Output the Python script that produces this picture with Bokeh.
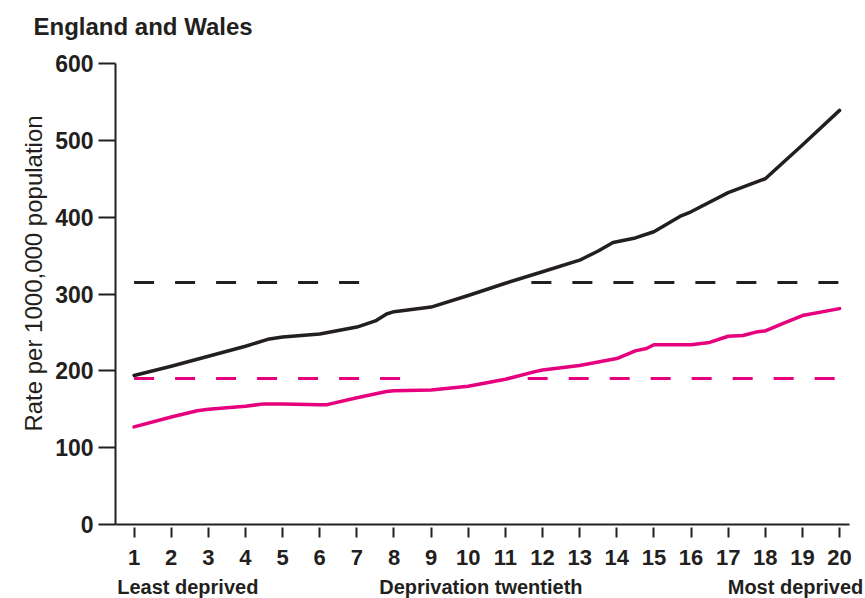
import math
from bokeh.plotting import figure
from bokeh.models import Range1d, FixedTicker, LinearAxis, Label
from bokeh.embed import file_html
from bokeh.resources import INLINE

# ---- data ----
title_text = "England and Wales"
y_label = "Rate per 1000,000 population"
x_ticks = list(range(1, 21))
y_ticks = [0, 100, 200, 300, 400, 500, 600]

# black series - deprivation twentieth vs rate
black_x = [1, 2, 3, 4, 4.6, 5, 6, 7, 7.5, 7.8, 8, 9, 10, 11, 12, 13, 13.5, 13.9, 14.5, 15, 15.7, 16, 17, 18, 19, 20]
black_y = [194, 206, 219, 232, 241, 244, 248, 257, 265, 274, 277, 283, 298, 314, 329, 344, 356, 367, 373, 381, 401, 407, 432, 450, 494, 539]

# magenta series
pink_x = [1, 2, 2.7, 3, 4, 4.5, 5, 6, 6.2, 7, 7.8, 8, 9, 10, 11, 11.8, 12, 13, 14, 14.5, 14.8, 15, 16, 16.5, 17, 17.4, 17.8, 18, 18.5, 19, 20]
pink_y = [127, 140, 148, 150, 154, 157, 157, 156, 156, 165, 173, 174, 175, 180, 189, 199, 201, 207, 216, 226, 229, 234, 234, 237, 245, 246, 251, 252, 262, 272, 281]

# national average reference levels (dashed), drawn in two pieces each
black_avg = 315
black_avg_x0 = [1, 11.7]
black_avg_x1 = [7.1, 20.05]
pink_avg = 190
pink_avg_x0 = [1, 11.6]
pink_avg_x1 = [8.2, 19.9]

bottom_labels = ["Least deprived", "Deprivation twentieth", "Most deprived"]

# ---- styling ----
INK = "#231f20"
MAGENTA = "#e6007e"
FONT = "Liberation Sans"

# the frame fills the whole canvas; both axes are pinned and bounded
p = figure(width=865, height=598, output_backend="svg", toolbar_location=None,
           x_range=Range1d(-2.598, 20.699), y_range=Range1d(-96.3, 682.0),
           x_axis_location=None, y_axis_location=None,
           min_border_left=0, min_border_right=0, min_border_top=0, min_border_bottom=0)
p.outline_line_color = None
p.grid.visible = False
p.background_fill_color = "white"
p.border_fill_color = "white"

# x axis at y = 0
xa = LinearAxis(fixed_location=0, ticker=FixedTicker(ticks=x_ticks), bounds=(0.5, 20.27))
xa.axis_line_color = INK
xa.axis_line_width = 2
xa.major_tick_line_color = INK
xa.major_tick_line_width = 2
xa.major_tick_in = -3
xa.major_tick_out = 13
xa.minor_tick_line_color = None
xa.major_label_standoff = 12
xa.major_label_text_font = FONT
xa.major_label_text_font_style = "bold"
xa.major_label_text_font_size = "22px"
xa.major_label_text_color = INK
p.add_layout(xa, "below")

# y axis at x = 0.5
ya = LinearAxis(fixed_location=0.5, ticker=FixedTicker(ticks=y_ticks), bounds=(0, 600))
ya.axis_line_color = INK
ya.axis_line_width = 2
ya.major_tick_line_color = INK
ya.major_tick_line_width = 2
ya.major_tick_in = 0
ya.major_tick_out = 17
ya.minor_tick_line_color = None
ya.major_label_standoff = 5
ya.major_label_text_font = FONT
ya.major_label_text_font_style = "bold"
ya.major_label_text_font_size = "23px"
ya.major_label_text_color = INK
p.add_layout(ya, "left")

# dashed averages
p.segment(x0=black_avg_x0, x1=black_avg_x1, y0=[black_avg] * 2, y1=[black_avg] * 2,
          line_color=INK, line_width=3, line_dash="20 21")
p.segment(x0=pink_avg_x0, x1=pink_avg_x1, y0=[pink_avg] * 2, y1=[pink_avg] * 2,
          line_color=MAGENTA, line_width=3, line_dash="20 21")

# series
p.line(black_x, black_y, line_color=INK, line_width=3.5, line_join="round", line_cap="round")
p.line(pink_x, pink_y, line_color=MAGENTA, line_width=3.5, line_join="round", line_cap="round")

# title
p.add_layout(Label(x=-1.709, y=648.5, text=title_text, text_font=FONT, text_font_style="bold",
                   text_font_size="24px", text_color=INK, text_baseline="alphabetic",
                   text_align="left"))

# rotated y-axis title
p.add_layout(Label(x=-1.709, y=326.7, text=y_label, angle=math.pi / 2, text_font=FONT,
                   text_font_style="normal", text_font_size="24px", text_color=INK,
                   text_baseline="middle", text_align="center"))

# captions under the tick labels
cap = dict(text_font=FONT, text_font_style="bold", text_font_size="20px",
           text_color=INK, text_baseline="alphabetic", y=-81)
p.add_layout(Label(x=0.545, text=bottom_labels[0], text_align="left", **cap))
p.add_layout(Label(x=10.34, text=bottom_labels[1], text_align="center", **cap))
p.add_layout(Label(x=20.64, text=bottom_labels[2], text_align="right", **cap))

open("out.html", "w").write(file_html(p, INLINE))
